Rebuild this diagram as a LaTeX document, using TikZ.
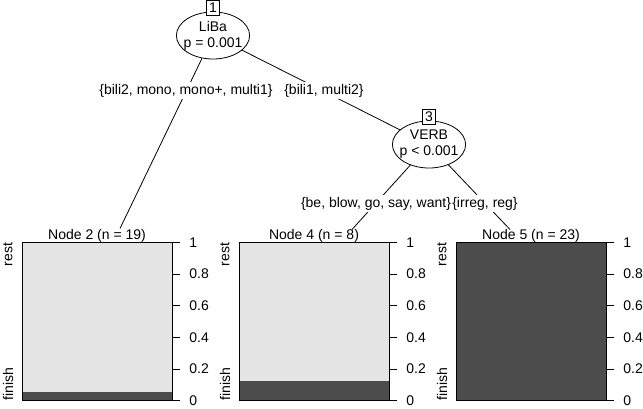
\documentclass[tikz,border=0pt]{standalone}
\usepackage{fontspec}
\setmainfont{Liberation Sans}
\usetikzlibrary{shapes.geometric}

\begin{document}
\begin{tikzpicture}[x=1pt,y=1pt,yscale=-1,xscale=1,
    every node/.style={font=\fontsize{14}{16}\selectfont},
    splitnode/.style={draw,ellipse,fill=white,align=center,line width=0.8pt,
      minimum width=73,minimum height=47,inner xsep=-3.5pt,inner ysep=0pt},
    idbox/.style={draw,fill=white,line width=0.8pt,minimum width=13,minimum height=15,inner sep=0pt},
    edgelabel/.style={fill=white,inner xsep=0pt,inner ysep=2pt},
    lvl/.style={rotate=90,inner sep=0pt},
    ticklabel/.style={anchor=west,inner sep=0pt}]
  \useasboundingbox (0,1.5) rectangle (643,409.5);

  %Inner nodes
  \node[splitnode] (n1) at (213,37) {LiBa\\p = 0.001};
  \node[splitnode] (n3) at (429,146) {VERB\\p < 0.001};
  \node[idbox,anchor=south] (b1) at ([yshift=4pt]n1.north) {1};
  \node[idbox,anchor=south] (b3) at ([yshift=4pt]n3.north) {3};
  \coordinate (t2) at (120,230);
  \coordinate (t4) at (352,231);
  \coordinate (t5) at (510,231);

  %Edges
  \draw[line width=0.8pt] (n1) -- (t2);
  \draw[line width=0.8pt] (n1) -- (n3);
  \draw[line width=0.8pt] (n3) -- (t4);
  \draw[line width=0.8pt] (n3) -- (t5);

  % Edge labels
  \node[edgelabel] (e12) at (186,92) {\{bili2, mono, mono+, multi1\}};
  \node[edgelabel] (e13) at (324,92) {\{bili1, multi2\}};
  \node[edgelabel] (e34) at (376,205) {\{be, blow, go, say, want\}};
  \node[edgelabel] (e35) at (485,205) {\{irreg, reg\}};

  %Terminal node 2
  \node (p2) at (97,237) {Node 2 (n = 19)};
  \fill[black!10] (22,244) rectangle (172,393.7);
  \fill[black!70] (22,393.7) rectangle (172,402);
  \draw[line width=0.8pt] (22,244) rectangle (172,402);
  \node[lvl,anchor=east] (r2) at (8,244) {rest};
  \node[lvl,anchor=west] (f2) at (8,402) {finish};
  \draw[line width=0.8pt] (172,402) -- (180,402) node[ticklabel,right=9pt] {0}
    (172,370.4) -- (180,370.4) node[ticklabel,right=9pt] {0.2}
    (172,338.8) -- (180,338.8) node[ticklabel,right=9pt] {0.4}
    (172,307.2) -- (180,307.2) node[ticklabel,right=9pt] {0.6}
    (172,275.6) -- (180,275.6) node[ticklabel,right=9pt] {0.8}
    (172,244) -- (180,244) node[ticklabel,right=9pt] {1};

  %Terminal node 4
  \node (p4) at (314,237) {Node 4 (n = 8)};
  \fill[black!10] (239,244) rectangle (389,382.25);
  \fill[black!70] (239,382.25) rectangle (389,402);
  \draw[line width=0.8pt] (239,244) rectangle (389,402);
  \node[lvl,anchor=east] (r4) at (225,244) {rest};
  \node[lvl,anchor=west] (f4) at (225,402) {finish};
  \draw[line width=0.8pt] (389,402) -- (397,402) node[ticklabel,right=9pt] {0}
    (389,370.4) -- (397,370.4) node[ticklabel,right=9pt] {0.2}
    (389,338.8) -- (397,338.8) node[ticklabel,right=9pt] {0.4}
    (389,307.2) -- (397,307.2) node[ticklabel,right=9pt] {0.6}
    (389,275.6) -- (397,275.6) node[ticklabel,right=9pt] {0.8}
    (389,244) -- (397,244) node[ticklabel,right=9pt] {1};

  %Terminal node 5
  \node (p5) at (531,237) {Node 5 (n = 23)};
  \fill[black!70] (456,244) rectangle (606,402);
  \draw[line width=0.8pt] (456,244) rectangle (606,402);
  \node[lvl,anchor=east] (r5) at (442,244) {rest};
  \node[lvl,anchor=west] (f5) at (442,402) {finish};
  \draw[line width=0.8pt] (606,402) -- (614,402) node[ticklabel,right=9pt] {0}
    (606,370.4) -- (614,370.4) node[ticklabel,right=9pt] {0.2}
    (606,338.8) -- (614,338.8) node[ticklabel,right=9pt] {0.4}
    (606,307.2) -- (614,307.2) node[ticklabel,right=9pt] {0.6}
    (606,275.6) -- (614,275.6) node[ticklabel,right=9pt] {0.8}
    (606,244) -- (614,244) node[ticklabel,right=9pt] {1};

\end{tikzpicture}
\end{document}
